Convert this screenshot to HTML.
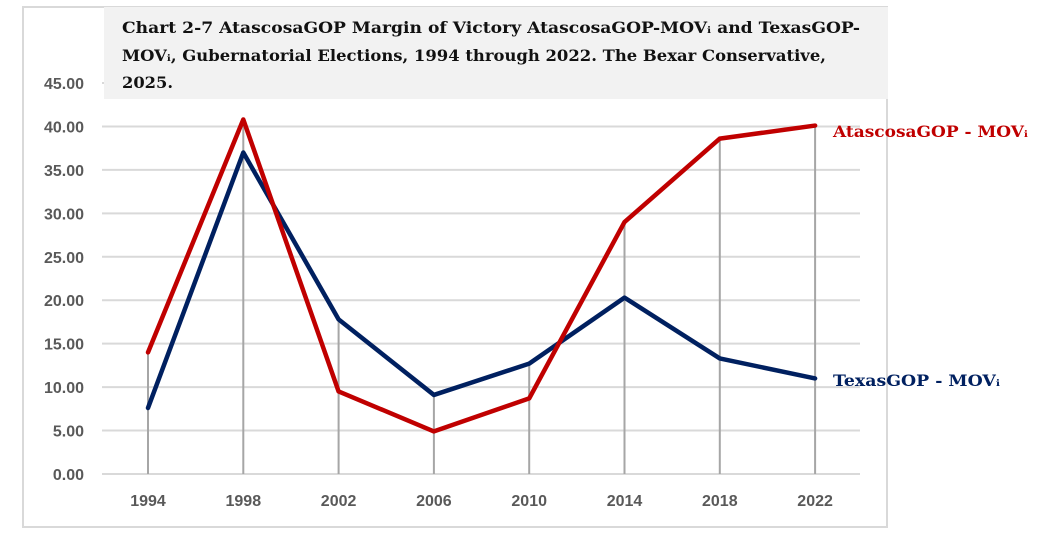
<!DOCTYPE html>
<html><head><meta charset="utf-8"><style>
html,body{margin:0;padding:0;background:#fff;width:1052px;height:537px;overflow:hidden}
svg text{font-family:"Liberation Sans",sans-serif}
.serif{font-family:"DejaVu Serif","Liberation Serif",serif}
</style></head><body>
<svg width="1052" height="537" xmlns="http://www.w3.org/2000/svg">
<rect x="23" y="7" width="864" height="520" fill="#fff" stroke="#d9d9d9" stroke-width="2"/>
<g id="grid"></g>
<g id="drops"></g>
<g id="series"></g>
<g id="ylabels"></g>
<g id="xlabels"></g>
<rect x="104" y="7" width="784" height="92" fill="#f2f2f2"/>
<g font-weight="bold" font-size="16" fill="#111">
<text class="serif" x="122" y="33" textLength="738" lengthAdjust="spacingAndGlyphs">Chart 2-7 AtascosaGOP Margin of Victory AtascosaGOP-MOVᵢ and TexasGOP-</text>
<text class="serif" x="122" y="61" textLength="704" lengthAdjust="spacingAndGlyphs">MOVᵢ, Gubernatorial Elections, 1994 through 2022. The Bexar Conservative,</text>
<text class="serif" x="122" y="88" textLength="51" lengthAdjust="spacingAndGlyphs">2025.</text>
</g>
<text class="serif" x="833" y="137" fill="#c00000" font-size="16" font-weight="bold" textLength="195" lengthAdjust="spacingAndGlyphs">AtascosaGOP - MOVᵢ</text>
<text class="serif" x="833" y="386" fill="#002060" font-size="16" font-weight="bold" textLength="167" lengthAdjust="spacingAndGlyphs">TexasGOP - MOVᵢ</text>
</svg>
<script>
const years=["1994","1998","2002","2006","2010","2014","2018","2022"];
const atascosa=[14.0,40.8,9.5,4.9,8.7,29.0,38.6,40.1];
const texas=[7.6,37.0,17.8,9.1,12.7,20.3,13.3,11.0];
const yTicks=[0,5,10,15,20,25,30,35,40,45];
const NS="http://www.w3.org/2000/svg";
const y=v=>474-v*(391/45);
const x=i=>148+i*95.3;
function mk(t,a,p){const e=document.createElementNS(NS,t);for(const k in a)e.setAttribute(k,a[k]);p.appendChild(e);return e;}
const grid=document.getElementById('grid'),yl=document.getElementById('ylabels');
yTicks.forEach(v=>{
 const l=mk('line',{x1:102,x2:860,y1:y(v),y2:y(v),stroke:'#d9d9d9','stroke-width':2},grid);
 
 
 const t=mk('text',{x:84,y:y(v)+6,'text-anchor':'end','font-size':16,'font-weight':'bold',fill:'#595959'},yl);
 t.textContent=v.toFixed(2);
 
 
});
const drops=document.getElementById('drops'),xl=document.getElementById('xlabels');
years.forEach((yr,i)=>{
 const top=Math.max(atascosa[i],texas[i]);
 const l=mk('line',{x1:x(i),x2:x(i),y1:y(top),y2:y(0),stroke:'#a6a6a6','stroke-width':2},drops);
 
 
 const t=mk('text',{x:x(i),y:506,'text-anchor':'middle','font-size':16,'font-weight':'bold',fill:'#595959'},xl);
 t.textContent=yr;
 
 
});
const s=document.getElementById('series');
const pt=arr=>arr.map((v,i)=>x(i)+','+y(v)).join(' ');
const b=mk('polyline',{points:pt(texas),fill:'none',stroke:'#002060','stroke-width':4.5,'stroke-linejoin':'round','stroke-linecap':'round'},s);


const r=mk('polyline',{points:pt(atascosa),fill:'none',stroke:'#c00000','stroke-width':4.5,'stroke-linejoin':'round','stroke-linecap':'round'},s);


</script>
</body></html>
